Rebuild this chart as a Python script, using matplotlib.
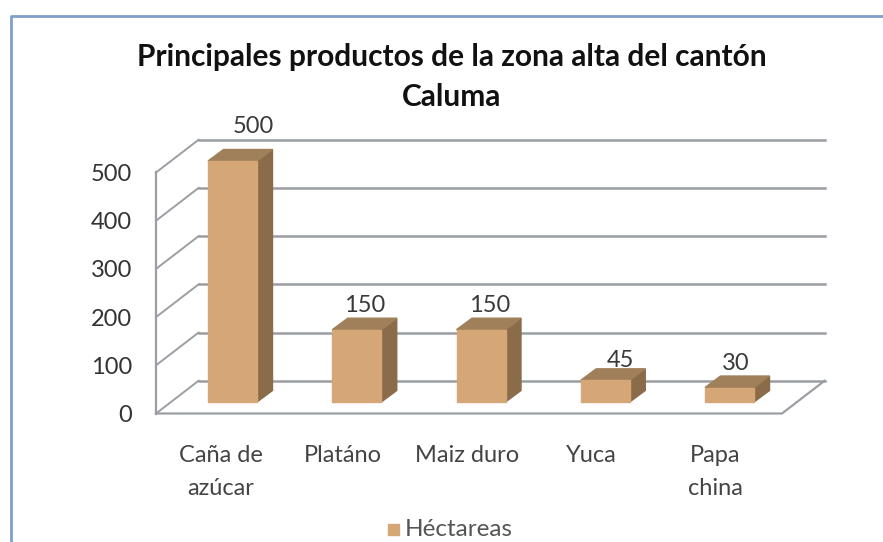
import matplotlib
matplotlib.use('Agg')
import matplotlib.pyplot as plt
from matplotlib.patches import Polygon, Rectangle

# datos del grafico
categorias = ['Caña de\nazúcar', 'Platáno', 'Maiz duro', 'Yuca', 'Papa\nchina']
hectareas = [500, 150, 150, 45, 30]
ticks = [0, 100, 200, 300, 400, 500]
titulo = 'Principales productos de la zona alta del cantón\nCaluma'
serie = 'Héctareas'

W, H = 883, 542
PX_X = 124.25        # pixeles por categoria
PX_Y = 0.482         # pixeles por hectarea
X0, Y0 = 232.5, 402  # pixel del centro de la primera barra y de su base

plt.rcParams['font.family'] = ['Lato', 'DejaVu Sans']

fig = plt.figure(figsize=(W / 100, H / 100), dpi=100)
ax = fig.add_axes([0, 0, 1, 1])
ax.set_xlim(-X0 / PX_X, (W - X0) / PX_X)
ax.set_ylim((Y0 - H) / PX_Y, Y0 / PX_Y)
ax.axis('off')

# profundidad y ancho en unidades de datos
dx = 15.5 / PX_X
dy = 11.5 / PX_Y
ancho = 49 / PX_X
gris = '#9b9fa3'

# paredes: frente de la caja y fondo
x_izq = (156 - X0) / PX_X
x_der = (782 - X0) / PX_X
fx = 2.75 * dx
y_frente = -dy
y_fondo = dy * 1.85

for t in ticks:
    ax.plot([x_izq, x_izq + fx], [y_frente + t, y_fondo + t], color=gris, lw=1.4, zorder=1)
    ax.plot([x_izq + fx, x_der + fx], [y_fondo + t, y_fondo + t], color=gris, lw=1.8, zorder=1)
ax.plot([x_izq, x_izq], [y_frente, y_frente + ticks[-1]], color=gris, lw=1.6, zorder=1)
ax.plot([x_izq, x_der, x_der + fx], [y_frente, y_frente, y_fondo], color=gris, lw=1.6, zorder=1)

# barras con caras falsas en 3D
ajuste_x = [21, 8, 9, 15, 6]        # corrimiento en pixeles de cada rotulo
ajuste_y = [23, 12.5, 12.5, 8.5, 12.5]
for i, v in enumerate(hectareas):
    a, b = i - ancho / 2, i + ancho / 2
    ax.add_patch(Polygon([(b, 0), (b + dx, dy), (b + dx, v + dy), (b, v)], color='#8a6b4a', zorder=3))
    ax.add_patch(Polygon([(a, v), (a + dx, v + dy), (b + dx, v + dy), (b, v)], color='#a0805a', zorder=3))
    ax.add_patch(Rectangle((a, 0), ancho, v, color='#d5a777', zorder=4))
    ax.text(i + ajuste_x[i] / PX_X, v + dy + ajuste_y[i] / PX_Y, str(v), ha='center', va='center',
            fontsize=17, color='#3a3a3a', zorder=5)

# etiquetas de ejes
for t in ticks:
    ax.text((132 - X0) / PX_X, t + y_frente - 2 / PX_Y, str(t), ha='right', va='center',
            fontsize=17, color='#333333')
desplaza = [-12, -14, -14, -14, -14]
for i, c in enumerate(categorias):
    if '\n' in c:
        ax.text(i + desplaza[i] / PX_X, (Y0 - 472) / PX_Y, c, ha='center', va='center', fontsize=17,
                color='#444444', linespacing=1.7)
    else:
        ax.text(i + desplaza[i] / PX_X, (Y0 - 456) / PX_Y, c, ha='center', va='center', fontsize=17,
                color='#444444')

fig.text(452 / W, 1 - 77 / H, titulo, ha='center', va='center', fontsize=21.5, fontweight='bold',
         color='#111111', linespacing=1.5)

# leyenda
fig.patches.append(Rectangle((388 / W, 1 - 535 / H), 11 / W, 11 / H, transform=fig.transFigure, color='#d5a777'))
fig.text(405 / W, 1 - 529 / H, serie, ha='left', va='center', fontsize=17.5, color='#555555')

# marco azul del grafico
fig.add_artist(plt.Line2D([11 / W, 11 / W, 1], [0, 1 - 16 / H, 1 - 16 / H], color='#7f9fca', lw=2))

fig.savefig('out.png', dpi=100)
